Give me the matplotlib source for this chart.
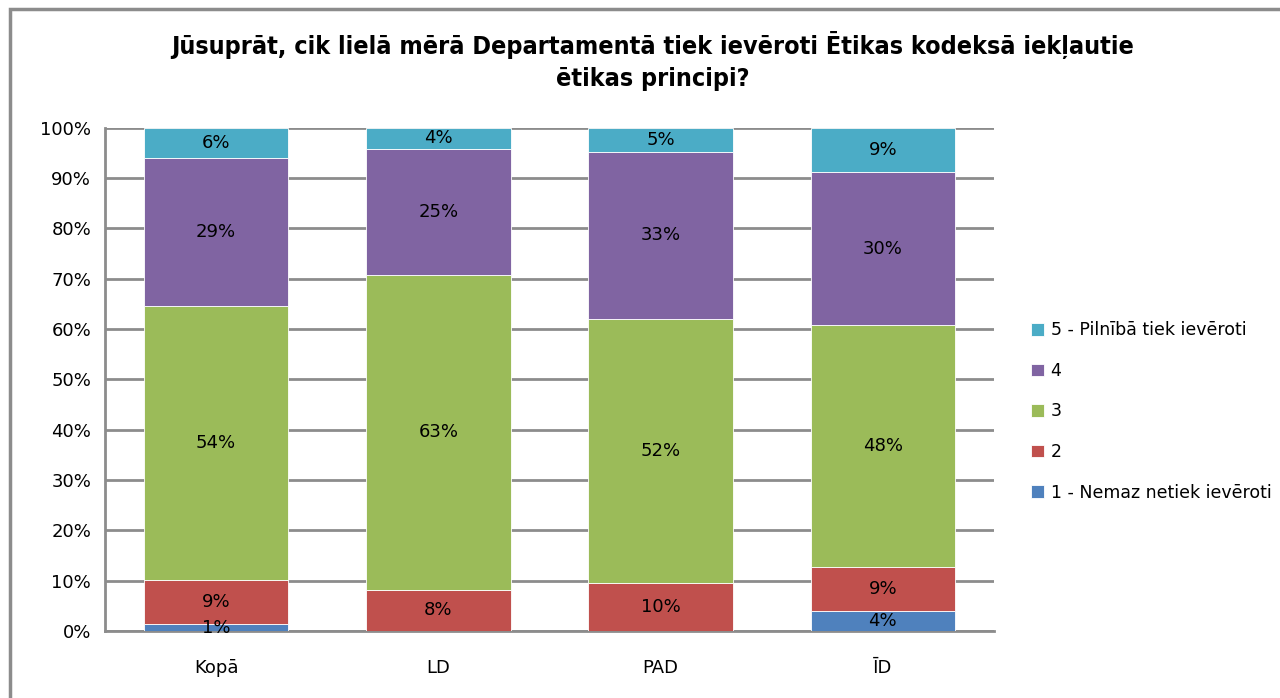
import numpy as np
import matplotlib.pyplot as plt
from matplotlib.patches import Rectangle

plt.rcParams['font.family'] = ['DejaVu Sans']

categories = ['Kopā', 'LD', 'PAD', 'ĪD']
series_names = ['1 - Nemaz netiek ievēroti', '2', '3', '4', '5 - Pilnībā tiek ievēroti']
s1 = [1.3, 0.0, 0.0, 4.0]
s2 = [8.8, 8.2, 9.6, 8.7]
s3 = [54.5, 62.6, 52.4, 48.1]
s4 = [29.4, 25.0, 33.2, 30.4]
s5 = [6.0, 4.2, 4.8, 8.8]
colors = ['#4f81bd', '#c0504d', '#9bbb59', '#8064a2', '#4bacc6']

fig = plt.figure(figsize=(12.8, 6.98), dpi=100)
ax = fig.add_axes([0.082, 0.096, 0.6945, 0.721])

x = np.arange(len(categories))
bottom = np.zeros(len(categories))
handles = []
for name, vals, c in zip(series_names, [s1, s2, s3, s4, s5], colors):
    vals = np.array(vals)
    b = ax.bar(x, vals, 0.65, bottom=bottom, color=c, edgecolor='white',
               linewidth=0.6, zorder=3, label=name)
    handles.append(b)
    for xi, v, bt in zip(x, vals, bottom):
        if v > 0:
            ax.text(xi, bt + v / 2, '%d%%' % round(v), ha='center', va='center',
                    fontsize=13, zorder=4)
    bottom += vals

ax.set_xlim(-0.5, 3.5)
ax.set_ylim(0, 100)
ax.set_yticks(range(0, 101, 10))
ax.set_yticklabels(['%d%%' % t for t in range(0, 101, 10)], fontsize=13)
ax.set_xticks(x)
ax.set_xticklabels(categories, fontsize=13)
ax.tick_params(axis='both', length=0, pad=10)
ax.tick_params(axis='x', pad=20)
ax.yaxis.grid(True, color='#8c8c8c', linewidth=2.0, zorder=0)
ax.set_axisbelow(True)
for s in ['top', 'right']:
    ax.spines[s].set_visible(False)
ax.spines['left'].set_color('#8c8c8c')
ax.spines['left'].set_linewidth(2.0)
ax.spines['bottom'].set_color('#8c8c8c')
ax.spines['bottom'].set_linewidth(2.0)

fig.legend(handles[::-1], series_names[::-1], loc='upper left',
           bbox_to_anchor=(0.793, 0.562), frameon=False, fontsize=12.5,
           handlelength=0.75, handleheight=0.75, labelspacing=1.3,
           handletextpad=0.4)

fig.text(0.51, 0.955, 'Jūsuprāt, cik lielā mērā Departamentā tiek ievēroti Ētikas kodeksā iekļautie\nētikas principi?',
         ha='center', va='top', fontsize=18, fontweight='bold', linespacing=1.4,
         fontstretch='condensed')

# outer border of the chart area
fig.patches.append(Rectangle((0.008, -0.1), 1.1, 1.087, transform=fig.transFigure,
                             fill=False, edgecolor='#8c8c8c', linewidth=2.5))

fig.savefig('out.png', dpi=100)
